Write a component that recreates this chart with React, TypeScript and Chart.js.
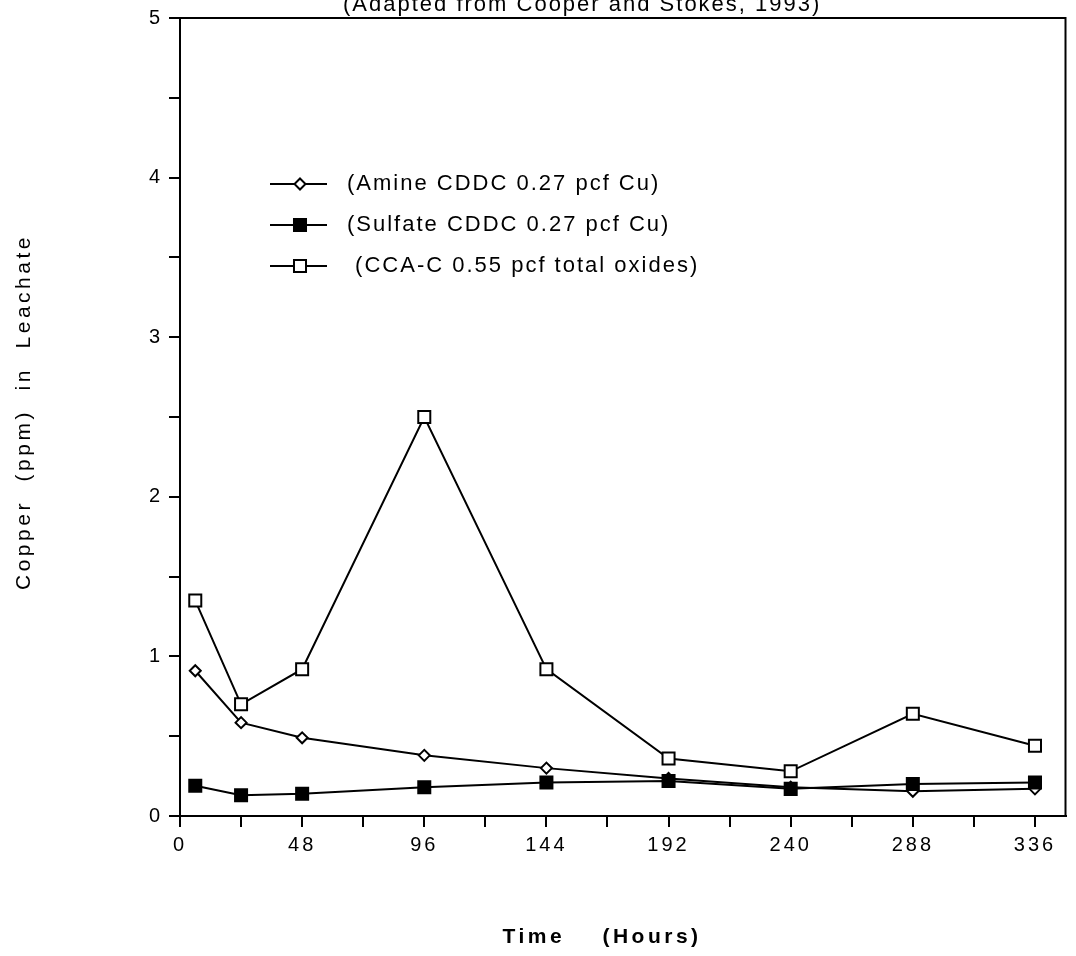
import React, { useEffect, useRef } from 'react';
import { Chart, registerables } from 'chart.js';

Chart.register(...registerables);

// ---- data ----
const hours = [6, 24, 48, 96, 144, 192, 240, 288, 336];
const amineCu = [0.91, 0.585, 0.49, 0.38, 0.3, 0.235, 0.18, 0.155, 0.17];
const sulfateCu = [0.19, 0.13, 0.14, 0.18, 0.21, 0.22, 0.17, 0.2, 0.21];
const ccaCu = [1.35, 0.7, 0.92, 2.5, 0.92, 0.36, 0.28, 0.64, 0.44];
const seriesLabels = [
  '(Amine CDDC 0.27 pcf Cu)',
  '(Sulfate CDDC 0.27 pcf Cu)',
  ' (CCA-C 0.55 pcf total oxides)',
];
const xMin = 0;
const xMax = 348;
const xTickStep = 24;
const xLabelEvery = 48;
const yMin = 0;
const yMax = 5;
const yTickStep = 0.5;
const titleText = '(Adapted from Cooper and Stokes, 1993)';
const xTitle = 'Time    (Hours)';
const yTitle = 'Copper  (ppm)  in  Leachate';

const FONT = '"Liberation Sans", Arial, Helvetica, sans-serif';

function drawMarker(ctx: CanvasRenderingContext2D, style: string, x: number, y: number, r: number, fill: string) {
  ctx.beginPath();
  if (style === 'rectRot') {
    ctx.moveTo(x, y - r);
    ctx.lineTo(x + r, y);
    ctx.lineTo(x, y + r);
    ctx.lineTo(x - r, y);
    ctx.closePath();
  } else {
    const h = Math.SQRT1_2 * r;
    ctx.rect(x - h, y - h, 2 * h, 2 * h);
  }
  ctx.fillStyle = fill;
  ctx.fill();
  ctx.lineWidth = 2;
  ctx.strokeStyle = '#000';
  ctx.stroke();
}

const decorPlugin = {
  id: 'decor',
  beforeUpdate(chart: any) {
    chart.ctx.letterSpacing = '3px';
  },
  beforeLayout(chart: any) {
    chart.ctx.letterSpacing = '3px';
  },
  beforeDraw(chart: any) {
    chart.ctx.letterSpacing = '3px';
  },
  afterDraw(chart: any) {
    const ctx: CanvasRenderingContext2D = chart.ctx;
    const a = chart.chartArea;
    ctx.save();
    // frame
    ctx.strokeStyle = '#000';
    ctx.lineWidth = 2;
    ctx.strokeRect(a.left, a.top, a.right - a.left, a.bottom - a.top);

    // title (cut at top of page)
    ctx.fillStyle = '#000';
    ctx.font = `22px ${FONT}`;
    (ctx as any).letterSpacing = '2px';
    ctx.textAlign = 'left';
    ctx.textBaseline = 'alphabetic';
    ctx.fillText(titleText, a.left + 163, a.top - 7);

    // legend
    const rows = [a.top + 166, a.top + 207, a.top + 248];
    const lineX0 = a.left + 90;
    const lineX1 = a.left + 147;
    const markX = a.left + 120;
    const textX = a.left + 167;
    chart.data.datasets.forEach((ds: any, i: number) => {
      const y = rows[i];
      ctx.beginPath();
      ctx.moveTo(lineX0, y);
      ctx.lineTo(lineX1, y);
      ctx.lineWidth = 2;
      ctx.strokeStyle = '#000';
      ctx.stroke();
      drawMarker(ctx, ds.pointStyle, markX, y, ds.pointRadius, ds.pointBackgroundColor);
      ctx.fillStyle = '#000';
      ctx.font = `22px ${FONT}`;
      (ctx as any).letterSpacing = '2px';
      ctx.textAlign = 'left';
      ctx.textBaseline = 'middle';
      ctx.fillText(ds.label, textX, y);
    });

    // axis titles
    ctx.fillStyle = '#000';
    (ctx as any).letterSpacing = '3.5px';
    ctx.font = `bold 21px ${FONT}`;
    ctx.textAlign = 'center';
    ctx.textBaseline = 'alphabetic';
    ctx.fillText(xTitle, 602, 943);

    ctx.translate(24, (a.top + a.bottom) / 2 - 5);
    ctx.rotate(-Math.PI / 2);
    ctx.font = `21px ${FONT}`;
    ctx.textBaseline = 'middle';
    ctx.fillText(yTitle, 0, 0);
    ctx.restore();
  },
};

export default function App() {
  const canvasRef = useRef<HTMLCanvasElement | null>(null);

  useEffect(() => {
    const canvas = canvasRef.current;
    if (!canvas) return;
    const mk = (vals: number[]) => hours.map((h, i) => ({ x: h, y: vals[i] }));
    const tickFont = { family: FONT, size: 20 };
    const chart = new Chart(canvas, {
      type: 'line',
      data: {
        datasets: [
          {
            label: seriesLabels[0],
            data: mk(amineCu),
            borderColor: '#000',
            borderWidth: 2,
            pointStyle: 'rectRot',
            pointRadius: 5.5,
            pointBackgroundColor: '#fff',
            pointBorderColor: '#000',
            pointBorderWidth: 2,
            tension: 0,
            order: 2,
          },
          {
            label: seriesLabels[1],
            data: mk(sulfateCu),
            borderColor: '#000',
            borderWidth: 2,
            pointStyle: 'rect',
            pointRadius: 8.5,
            pointBackgroundColor: '#000',
            pointBorderColor: '#000',
            pointBorderWidth: 2,
            tension: 0,
            order: 1,
          },
          {
            label: seriesLabels[2],
            data: mk(ccaCu),
            borderColor: '#000',
            borderWidth: 2,
            pointStyle: 'rect',
            pointRadius: 8.5,
            pointBackgroundColor: '#fff',
            pointBorderColor: '#000',
            pointBorderWidth: 2,
            tension: 0,
            order: 0,
          },
        ] as any,
      },
      options: {
        animation: false,
        responsive: false,
        devicePixelRatio: 1,
        layout: { padding: { left: 0, top: 18, right: 8, bottom: 0 } },
        plugins: {
          legend: { display: false },
          title: { display: false },
          tooltip: { enabled: false },
        },
        scales: {
          x: {
            type: 'linear',
            min: xMin,
            max: xMax,
            ticks: {
              stepSize: xTickStep,
              includeBounds: false,
              autoSkip: false,
              maxRotation: 0,
              color: '#000',
              font: tickFont,
              padding: 6,
              callback: (v: any) => (Number(v) % xLabelEvery === 0 ? String(v) : ''),
            },
            grid: { display: true, drawOnChartArea: false, drawTicks: true, tickLength: 11, color: '#000', lineWidth: 2 },
            border: { display: true, color: '#000', width: 2 },
            afterFit: (s: any) => {
              s.height = 140;
            },
          },
          y: {
            type: 'linear',
            min: yMin,
            max: yMax,
            ticks: {
              stepSize: yTickStep,
              color: '#000',
              font: tickFont,
              padding: 6,
              callback: (v: any) => (Number.isInteger(Number(v)) ? String(v) : ''),
            },
            grid: { display: true, drawOnChartArea: false, drawTicks: true, tickLength: 11, color: '#000', lineWidth: 2 },
            border: { display: true, color: '#000', width: 2 },
            afterFit: (s: any) => {
              s.width = 180;
            },
          },
        },
      } as any,
      plugins: [decorPlugin as any],
    });
    return () => chart.destroy();
  }, []);

  return (
    <div style={{ position: 'fixed', left: 0, top: 0, width: 1076, height: 956, background: '#fff' }}>
      <canvas ref={canvasRef} width={1076} height={956} style={{ display: 'block' }} />
    </div>
  );
}
